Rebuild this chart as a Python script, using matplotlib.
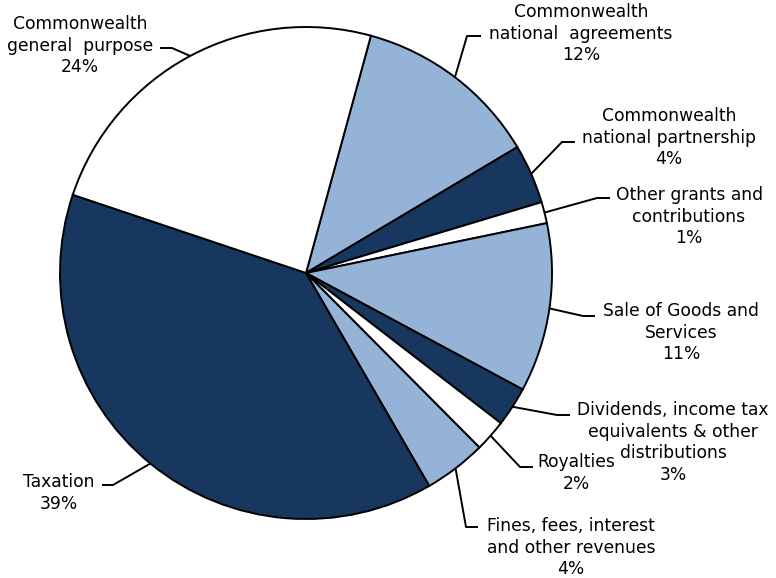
import numpy as np
import matplotlib
matplotlib.use("Agg")
import matplotlib.pyplot as plt

categories = [
    "Commonwealth\nnational  agreements",
    "Commonwealth\nnational partnership",
    "Other grants and\ncontributions",
    "Sale of Goods and\nServices",
    "Dividends, income tax\nequivalents & other\ndistributions",
    "Royalties",
    "Fines, fees, interest\nand other revenues",
    "Taxation",
    "Commonwealth\ngeneral  purpose",
]
values = [12.2, 3.9, 1.4, 11.1, 2.6, 2.1, 4.1, 38.5, 24.1]
pct_labels = ["12%", "4%", "1%", "11%", "3%", "2%", "4%", "39%", "24%"]

NAVY = "#17375E"
LIGHT = "#95B3D7"
WHITE = "#FFFFFF"
colors = [LIGHT, NAVY, WHITE, LIGHT, NAVY, WHITE, LIGHT, NAVY, WHITE]

W, H = 776, 578
fig = plt.figure(figsize=(W / 100, H / 100), dpi=100)
ax = fig.add_axes([0, 0, 1, 1])

cx, cy, R = 306, H - 273, 246
wedges, _ = ax.pie(values, colors=colors, startangle=74.7, counterclock=False,
                   center=(cx, cy), radius=R, frame=True,
                   wedgeprops=dict(edgecolor="black", linewidth=1.4))
ax.set_xlim(0, W)
ax.set_ylim(0, H)
ax.set_aspect("equal")
ax.axis("off")

# layout: (text center x, first baseline y, elbow x, elbow y, horizontal end x) in pixel coords (y from top)
layout = [
    (581, 17, 467, 36, 481),
    (669, 121, 562, 142, 575),
    (689, 200, 597, 198, 610),
    (681, 316, 583, 316, 595),
    (673, 415, 557, 415, 570),
    (576, 467, 520, 467, 533),
    (571, 531, 466, 527, 478),
    (59, 487, 113, 485, 102),
    (80, 29, 172, 48, 160),
]

fs = 12.3
pitch = 21.6
for w, cat, pct, (tx, ty, ex, ey, hx) in zip(wedges, categories, pct_labels, layout):
    mid = np.deg2rad((w.theta1 + w.theta2) / 2)
    px = cx + R * np.cos(mid)
    py = cy + R * np.sin(mid)
    ax.plot([px, ex, hx], [py, H - ey, H - ey], color="black", lw=1.4,
            solid_capstyle="butt")
    lines = (cat + "\n" + pct).split("\n")
    for i, line in enumerate(lines):
        ax.text(tx, H - (ty + i * pitch), line, ha="center", va="baseline",
                fontsize=fs, family="DejaVu Sans", color="black")

fig.savefig("out.png", dpi=100)
